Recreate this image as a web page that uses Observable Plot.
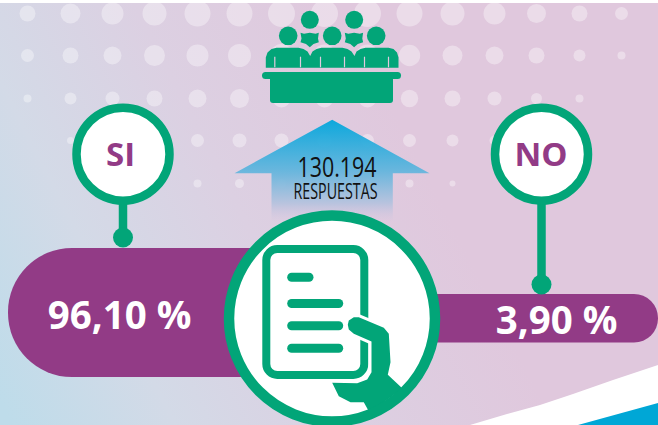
<!DOCTYPE html>
<html><head><meta charset="utf-8">
<style>html,body{margin:0;padding:0;background:#fff}svg{display:block}</style>
<script src="https://cdn.jsdelivr.net/npm/d3@7"></script>
<script src="https://cdn.jsdelivr.net/npm/@observablehq/plot@0.6"></script>
</head><body><div id="chart"></div>
<script>
// Survey values
const answers = ["SI", "NO"];
const shares = [96.10, 3.90];
const responses = "130.194";
const responsesLabel = "RESPUESTAS";

// Picture layout
const W = 658, H = 425;
const GREEN = "#02a578", PURPLE = "#923b86";
const pillX1 = [8, 380], pillX2 = [330, 658], pillY1 = [248, 294], pillY2 = [377, 342.5];
const badgeX = [122.5, 541], badgeY = 153.7, stemEnd = [237, 284], badgeTextX = [120, 540.5];
const shareX = [119, 556], shareY = [315.7, 321];

// Decorative halftone field
const dotCols = [27, 70, 112, 154, 197, 239, 281, 324, 367, 409, 452, 494, 536, 579, 621];
const dotRowY = [13, 55, 98, 140, 183];
const dotRadii = [
  [8, 10, 11, 12, 13, 13, 13.5, 13.5, 13.5, 13, 12, 11, 9.5, 8, 6.5],
  [6.5, 8, 9, 10.5, 11, 11.5, 11.5, 11, 11, 10.7, 10, 9, 8, 6, 4],
  [4, 6, 7, 8, 9, 9.5, 9, 9, 9, 8.7, 8, 7, 5.5, 4, 0],
  [0, 3.5, 5, 5.5, 6.5, 7, 7, 7, 6.5, 6.5, 6, 5, 0, 0, 0],
  [0, 0, 0, 0, 4, 4.5, 4.5, 4.5, 4.5, 4, 3, 0, 0, 0, 0]
];
const dots = dotRadii.flatMap((row, i) => row.map((r, j) => ({x: dotCols[j], y: dotRowY[i], r}))).filter(d => d.r > 0);

// Outlines
const toPts = a => a.map(([x, y]) => ({x, y}));
const arrow = toPts([[331.7,119.3],[429,172.7],[392.3,172.7],[392.3,222],[271,222],[271,172.7],[234,172.7]]);
const bodies = toPts([[265.3,67.3],[265.3,57],[267,52],[271,48.5],[276,47.3],[298,47.3],[303,48.5],[307,51],[309.7,55.5],[312,51],[316,48.5],[321,47.3],[342,47.3],[347,48.5],[351,51],[354,55.5],[356,51],[360,48.5],[365,47.3],[388,47.3],[393,48.5],[396.5,52],[398,57],[398,67.3]]);
const chests = [0, 44.3].flatMap((dx, k) => [[300,32.3],[303.5,33.2],[309.3,32.3],[315,33.2],[318.3,32.3],[317.5,38],[318.3,41.7],[313,43.5],[309.3,46.7],[305.5,43.5],[300,41.7],[301,38]].map(([x, y]) => ({x: x + dx, y, k})));
const heads = [{x:309.3,y:19.3,r:9},{x:353.7,y:19.3,r:9},{x:287.7,y:35.3,r:9.3},{x:331.7,y:35.3,r:9.3},{x:375.7,y:35.3,r:9.3}];
const armX = [274.3, 300, 320, 344, 364, 388];
const hand = toPts([[348.3,320],[353.3,316.7],[358.3,316.7],[383.3,327.3],[388.3,333.3],[390,361.7],[387.3,374.3],[402,388],[369,412],[363.3,401.7],[350,401.7],[338.3,395.7],[331.7,382.3],[356.7,382.7],[366.7,379],[371,371.7],[371,341],[353.3,333.3],[348.3,329],[347.3,324.3]]);
const docLines = [{y:276.7,x2:308.5},{y:303,x2:338.2},{y:325.3,x2:338.2},{y:347.7,x2:338.2}];
const swooshWhite = toPts([[470,425],[507,414],[540,405],[573,394],[613,380],[658,365]]);
const swooshBlue = toPts([[578,425],[658,403]]);

const pills = answers.map((a, i) => ({a, x1: pillX1[i], x2: pillX2[i], y1: pillY1[i], y2: pillY2[i]}));
const badges = answers.map((a, i) => ({a, x: badgeX[i], tx: badgeTextX[i], y: badgeY, end: stemEnd[i]}));
const labels = shares.map((v, i) => ({t: v.toFixed(2).replace(".", ",") + " %", x: shareX[i], y: shareY[i]}));

function defs() {
  const d = d3.create("svg:defs");
  const bg = d.append("linearGradient").attr("id", "bg").attr("gradientUnits", "userSpaceOnUse")
    .attr("x1", 0).attr("y1", 400).attr("x2", 430).attr("y2", 180);
  [[0, "#bedcea"], [.3, "#d3dae7"], [.62, "#dcd0e2"], [1, "#e0c8dd"]].forEach(([o, c]) => bg.append("stop").attr("offset", o).attr("stop-color", c));
  const ar = d.append("linearGradient").attr("id", "ar").attr("gradientUnits", "userSpaceOnUse")
    .attr("x1", 0).attr("y1", 119).attr("x2", 0).attr("y2", 222);
  [[0, "#00a6dc", 1], [.5, "#62b5dd", 1], [.82, "#b8c3de", 1], [1, "#d4c6e0", 0]].forEach(([o, c, a]) => ar.append("stop").attr("offset", o).attr("stop-color", c).attr("stop-opacity", a));
  return d.node();
}

const fontBold = "'Open Sans', sans-serif";
const chart = Plot.plot({
  width: W, height: H, margin: 0,
  x: {domain: [0, W], range: [0, W], axis: null},
  y: {domain: [0, H], range: [0, H], axis: null},
  r: {type: "identity"},
  style: {background: "#fff"},
  marks: [
    defs,
    Plot.rect([{}], {x1: 0, x2: W, y1: 3, y2: H, fill: "url(#bg)"}),
    Plot.dot(dots, {x: "x", y: "y", r: "r", fill: "#fff", fillOpacity: 0.36}),
    Plot.areaY(swooshWhite, {x: "x", y1: H, y2: "y", fill: "#fff", curve: "linear"}),
    Plot.areaY(swooshBlue, {x: "x", y1: H, y2: "y", fill: "#00a7d6"}),
    // meeting icon
    Plot.dot(heads, {x: "x", y: "y", r: "r", fill: GREEN}),
    Plot.line(chests, {x: "x", y: "y", z: "k", fill: GREEN, stroke: "none"}),
    Plot.line(bodies, {x: "x", y: "y", fill: GREEN, stroke: "none"}),
    Plot.ruleX(armX, {x: d => d, y1: 56.7, y2: 67.3, stroke: "#e0cade", strokeWidth: 1.2}),
    Plot.rect([{}], {x1: 270, x2: 393, y1: 74, y2: 103, fill: GREEN, rx: 3}),
    Plot.rect([{}], {x1: 262, x2: 401, y1: 72, y2: 79, fill: GREEN, rx: 3.5}),
    // arrow
    Plot.line(arrow, {x: "x", y: "y", fill: "url(#ar)", stroke: "none", fillOpacity: 0.94}),
    Plot.text([responses], {x: 336.5, y: 168, text: d => d, fontFamily: "'Open Sans', sans-serif", fontSize: 28, fill: "#111", className: "narrow-a"}),
    Plot.text([responsesLabel], {x: 335, y: 191.3, text: d => d, fontFamily: "'Open Sans', sans-serif", fontSize: 21, fill: "#111", className: "narrow-b"}),
    // share pills
    Plot.rect(pills.slice(0, 1), {x1: "x1", x2: "x2", y1: "y1", y2: "y2", rx: 64, fill: PURPLE}),
    Plot.rect(pills.slice(1), {x1: "x1", x2: "x2", y1: "y1", y2: "y2", rx: 24, fill: PURPLE}),
    Plot.text(labels, {x: "x", y: "y", text: "t", fontFamily: fontBold, fontWeight: 700, fontSize: 38.5, fill: "#fff"}),
    // badges
    Plot.link(badges, {x1: "x", x2: "x", y1: "y", y2: "end", stroke: GREEN, strokeWidth: 8.5}),
    Plot.dot(badges, {x: "x", y: "end", r: 10, fill: GREEN}),
    Plot.dot(badges, {x: "x", y: "y", r: 46.5, fill: "#fff", stroke: GREEN, strokeWidth: 8.5}),
    Plot.text(badges, {x: "tx", y: 155.4, text: "a", fontFamily: fontBold, fontWeight: 700, fontSize: 33, fill: PURPLE}),
    // central document disc
    Plot.dot([{}], {x: 331.5, y: 318, r: 103, fill: "#fff"}),
    Plot.rect([{}], {x1: 266.3, x2: 364.3, y1: 249, y2: 375, rx: 11, fill: "none", stroke: GREEN, strokeWidth: 8}),
    Plot.link(docLines, {x1: 291.2, x2: "x2", y1: "y", y2: "y", stroke: GREEN, strokeWidth: 9, strokeLinecap: "round"}),
    Plot.line(hand, {x: "x", y: "y", fill: "#fff", stroke: "#fff", strokeWidth: 6}),
    Plot.line(hand, {x: "x", y: "y", fill: GREEN, stroke: "none"}),
    Plot.dot([{}], {x: 331.5, y: 318, r: 103, fill: "none", stroke: GREEN, strokeWidth: 10.5})
  ]
});
// Condense the two arrow captions to the reference's narrow lettering
[[responses, 79], [responsesLabel, 84]].forEach(([label, len]) => {
  for (const t of chart.querySelectorAll("text")) {
    if (t.textContent === label) {
      t.setAttribute("textLength", len);
      t.setAttribute("lengthAdjust", "spacingAndGlyphs");
    }
  }
});
document.getElementById("chart").append(chart);
</script></body></html>
